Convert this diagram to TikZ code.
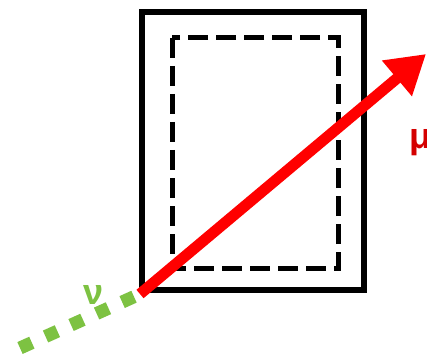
\documentclass[tikz,border=0pt]{standalone}
\usepackage{fontspec}
\setmainfont{Liberation Sans}
\usetikzlibrary{arrows.meta, positioning}
\definecolor{murred}{HTML}{FF0000}
\definecolor{mulabel}{HTML}{D40000}
\definecolor{nugreen}{HTML}{7DC242}

\begin{document}
\begin{tikzpicture}[
    x=1pt, y=-1pt,
    frame/.style={draw=black, line width=6pt},
    fiducial/.style={draw=black, line width=5pt, dash pattern=on 20pt off 8pt},
    neutrino/.style={draw=nugreen, line width=13pt, dash pattern=on 13pt off 15pt},
    muon/.style={draw=murred, line width=11pt, -{Triangle[length=38pt, width=44pt]}},
    lbl/.style={font=\bfseries\fontsize{36}{36}\selectfont, inner sep=0pt},
]
\useasboundingbox (0,0) rectangle (427,363);

% detector and fiducial volume
\draw[frame] (142,12) rectangle (364,290);
\draw[fiducial] (172,38) rectangle (338,268);

% interaction vertex
\coordinate (vtx) at (140,294);
\coordinate (nuin) at (20,348);
\coordinate (mutip) at (426,54);

\draw[neutrino] (nuin) -- (vtx);
\draw[muon] (vtx) -- (mutip);

\node[lbl, text=nugreen] (nu) at (94,294.5) {ν};
\node[lbl, text=mulabel, anchor=west] (mu) at (409,143) {μ};

\end{tikzpicture}
\end{document}
